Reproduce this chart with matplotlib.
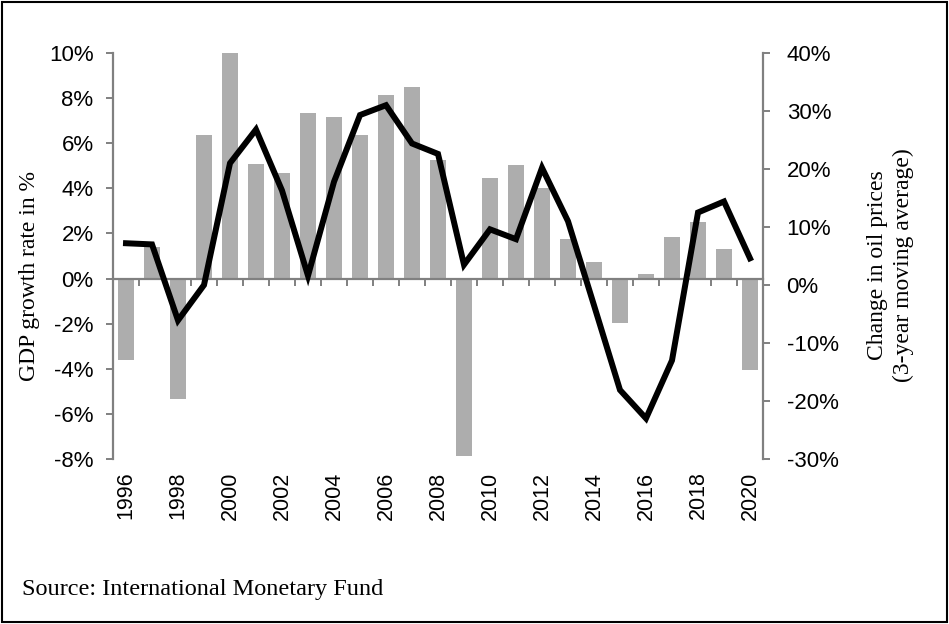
import matplotlib
matplotlib.use('Agg')
import matplotlib.pyplot as plt
from matplotlib.patches import Rectangle
from matplotlib.ticker import FuncFormatter, FixedLocator
import numpy as np

years = list(range(1996, 2021))
gdp_growth = [-3.6, 1.4, -5.35, 6.35, 10.0, 5.1, 4.7, 7.35, 7.15, 6.35, 8.15, 8.5,
              5.25, -7.85, 4.45, 5.05, 4.0, 1.75, 0.75, -1.95, 0.2, 1.85, 2.5, 1.3, -4.05]
oil_change = [7.2, 7.0, -6.1, 0.0, 21.0, 26.8, 16.3, 1.6, 17.8, 29.3, 31.0, 24.4,
              22.6, 3.5, 9.6, 7.9, 20.2, 11.0, -3.5, -18.1, -23.0, -13.0, 12.5, 14.4, 4.6]
year_labels = [str(y) for y in years[::2]]

sans = 'Liberation Sans'
serif = 'Liberation Serif'
axis_grey = '#808080'

fig = plt.figure(figsize=(9.49, 6.24), dpi=100)
ax = fig.add_axes([113 / 949, 1 - 459 / 624, 650 / 949, 406 / 624])
ax2 = ax.twinx()

x = np.arange(len(years))
ax.bar(x, gdp_growth, width=0.58, color='#adadad', zorder=2)
ax2.plot(x, oil_change, color='black', lw=4.3, solid_joinstyle='miter', zorder=3)

ax.set_xlim(-0.5, len(years) - 0.5)
ax.set_ylim(-8, 10)
ax.set_yticks(np.arange(-8, 11, 2))
ax2.set_ylim(-30, 40)
ax2.set_yticks(np.arange(-30, 41, 10))
pct = FuncFormatter(lambda v, p: '%d%%' % round(v))
ax.yaxis.set_major_formatter(pct)
ax2.yaxis.set_major_formatter(pct)

for a in (ax, ax2):
    a.spines['top'].set_visible(False)
    for s in ('left', 'right', 'bottom'):
        a.spines[s].set_color(axis_grey)
        a.spines[s].set_linewidth(1.6)
ax2.spines['bottom'].set_visible(False)
ax2.spines['left'].set_visible(False)
ax.spines['right'].set_visible(False)

# category axis sits on the zero line, ticks between categories
ax.spines['bottom'].set_position(('data', 0))
ax.xaxis.set_major_locator(FixedLocator(np.arange(-0.5, len(years), 1.0)))
ax.tick_params(axis='x', direction='out', length=5, width=1.4, color=axis_grey,
               labelbottom=False)
ax.tick_params(axis='y', direction='out', length=5, width=1.4, color=axis_grey,
               labelsize=16, pad=9)
ax2.tick_params(axis='y', direction='out', length=5, width=1.4, color=axis_grey,
                labelsize=16, pad=12)
for lab in ax.get_yticklabels() + ax2.get_yticklabels():
    lab.set_fontfamily(sans)

# year labels at the bottom of the plot area
sec = ax.secondary_xaxis('bottom')
sec.spines['bottom'].set_visible(False)
sec.set_xticks(x[::2])
sec.set_xticklabels(year_labels, rotation=90, fontsize=15.5, fontfamily=sans)
sec.tick_params(axis='x', length=0, pad=9)

ax.set_ylabel('GDP growth rate in %', fontfamily=serif, fontsize=17, labelpad=10)
ax2.set_ylabel('Change in oil prices\n(3-year moving average)', fontfamily=serif,
               fontsize=17, labelpad=14, rotation=90, linespacing=1.3)
ax.yaxis.set_label_coords(-0.112, 0.45)
ax2.yaxis.set_label_coords(1.16, 0.478)

fig.text(22 / 949, 1 - 595 / 624, 'Source: International Monetary Fund',
         fontfamily=serif, fontsize=17.5, va='baseline', ha='left')

fig.patches.append(Rectangle((0.002, 0.003), 0.996, 0.994, transform=fig.transFigure,
                             fill=False, edgecolor='black', lw=1.5))

fig.savefig('out.png', dpi=100)
